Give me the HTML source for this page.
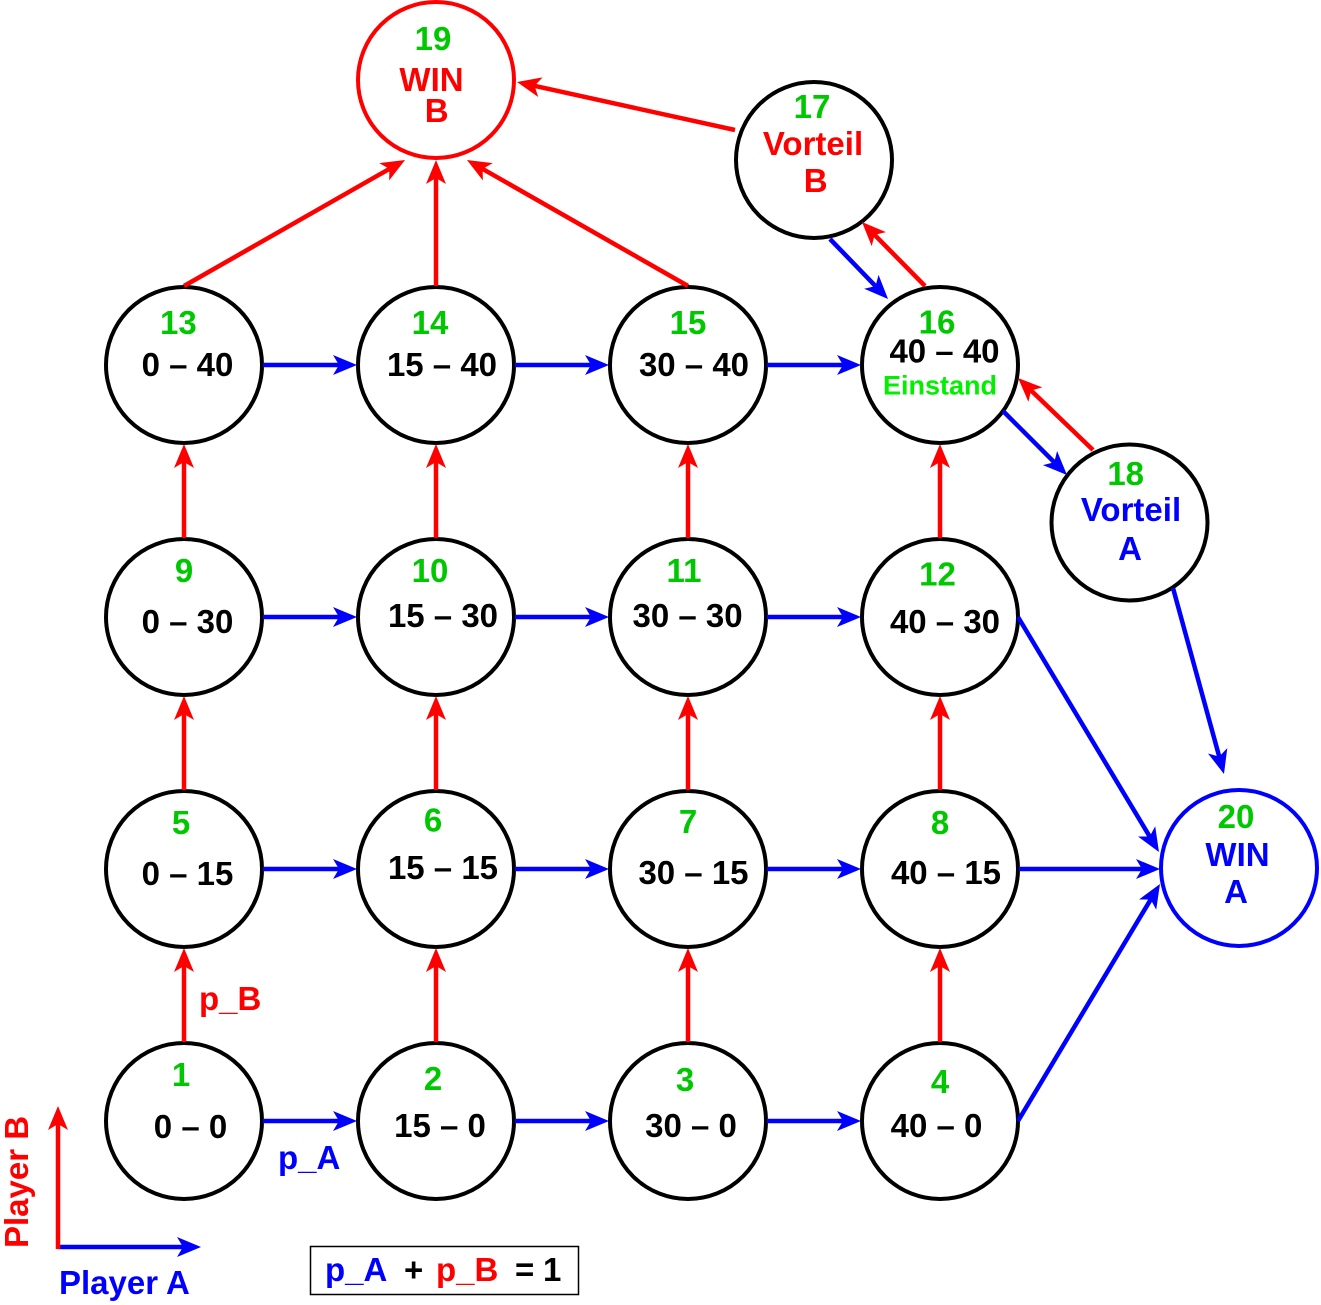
<!DOCTYPE html>
<html>
<head>
<meta charset="utf-8">
<style>
  html, body { margin: 0; padding: 0; background: #ffffff; }
  svg { display: block; }
  text { font-family: "Liberation Sans", Arial, sans-serif; font-weight: bold; font-size: 33px; }
  .g { fill: #00c800; }
  .k { fill: #000000; }
  .r { fill: #ff0000; }
  .b { fill: #0000ff; }
</style>
</head>
<body>
<svg width="1321" height="1305" viewBox="0 0 1321 1305" xmlns="http://www.w3.org/2000/svg">
  <defs>
    <marker id="ar" markerUnits="userSpaceOnUse" viewBox="-20 -15 40 30" refX="0" refY="0" markerWidth="40" markerHeight="30" orient="auto" overflow="visible">
      <path d="M12,0 L-12,-10 L-6,0 L-12,10 Z" fill="#ff0000"/>
    </marker>
    <marker id="ab" markerUnits="userSpaceOnUse" viewBox="-20 -15 40 30" refX="0" refY="0" markerWidth="40" markerHeight="30" orient="auto" overflow="visible">
      <path d="M12,0 L-12,-10 L-6,0 L-12,10 Z" fill="#0000ff"/>
    </marker>
  </defs>

  <!-- Circles -->
  <g fill="none" stroke="#000" stroke-width="4">
    <circle cx="184" cy="365" r="78"/>
    <circle cx="436" cy="365" r="78"/>
    <circle cx="688" cy="365" r="78"/>
    <circle cx="940" cy="365" r="78"/>
    <circle cx="184" cy="617" r="78"/>
    <circle cx="436" cy="617" r="78"/>
    <circle cx="688" cy="617" r="78"/>
    <circle cx="940" cy="617" r="78"/>
    <circle cx="184" cy="869" r="78"/>
    <circle cx="436" cy="869" r="78"/>
    <circle cx="688" cy="869" r="78"/>
    <circle cx="940" cy="869" r="78"/>
    <circle cx="184" cy="1121" r="78"/>
    <circle cx="436" cy="1121" r="78"/>
    <circle cx="688" cy="1121" r="78"/>
    <circle cx="940" cy="1121" r="78"/>
    <circle cx="814" cy="160" r="78"/>
    <circle cx="1129.5" cy="522.5" r="78"/>
  </g>
  <circle cx="436" cy="80" r="78" fill="none" stroke="#ff0000" stroke-width="4"/>
  <circle cx="1239" cy="868" r="78" fill="none" stroke="#0000ff" stroke-width="4"/>

  <!-- Blue arrows -->
  <g stroke="#0000ff" stroke-width="4.5" fill="none" marker-end="url(#ab)">
    <line x1="263" y1="365" x2="345" y2="365"/>
    <line x1="515" y1="365" x2="597" y2="365"/>
    <line x1="767" y1="365" x2="849" y2="365"/>
    <line x1="263" y1="617" x2="345" y2="617"/>
    <line x1="515" y1="617" x2="597" y2="617"/>
    <line x1="767" y1="617" x2="849" y2="617"/>
    <line x1="263" y1="869" x2="345" y2="869"/>
    <line x1="515" y1="869" x2="597" y2="869"/>
    <line x1="767" y1="869" x2="849" y2="869"/>
    <line x1="1019" y1="869" x2="1148" y2="869"/>
    <line x1="263" y1="1121" x2="345" y2="1121"/>
    <line x1="515" y1="1121" x2="597" y2="1121"/>
    <line x1="767" y1="1121" x2="849" y2="1121"/>
    <line x1="1018" y1="617" x2="1152.8" y2="841.7"/>
    <line x1="1018" y1="1121" x2="1153.8" y2="894.3"/>
    <line x1="1173" y1="588" x2="1220.8" y2="762.4"/>
    <line x1="830" y1="239" x2="879.7" y2="290.4"/>
    <line x1="1003" y1="411" x2="1058.5" y2="466.5"/>
    <line x1="58" y1="1247" x2="189" y2="1247"/>
  </g>

  <!-- Red arrows -->
  <g stroke="#ff0000" stroke-width="4.5" fill="none" marker-end="url(#ar)">
    <line x1="184" y1="1042" x2="184" y2="960"/>
    <line x1="436" y1="1042" x2="436" y2="960"/>
    <line x1="688" y1="1042" x2="688" y2="960"/>
    <line x1="940" y1="1042" x2="940" y2="960"/>
    <line x1="184" y1="790" x2="184" y2="708"/>
    <line x1="436" y1="790" x2="436" y2="708"/>
    <line x1="688" y1="790" x2="688" y2="708"/>
    <line x1="940" y1="790" x2="940" y2="708"/>
    <line x1="184" y1="538" x2="184" y2="456"/>
    <line x1="436" y1="538" x2="436" y2="456"/>
    <line x1="688" y1="538" x2="688" y2="456"/>
    <line x1="940" y1="538" x2="940" y2="456"/>
    <line x1="436" y1="286" x2="436" y2="172"/>
    <line x1="184" y1="286" x2="394.6" y2="165.9"/>
    <line x1="688" y1="286" x2="477.4" y2="165.9"/>
    <line x1="735" y1="130" x2="528.7" y2="84.6"/>
    <line x1="925" y1="286" x2="870.4" y2="230.6"/>
    <line x1="1093" y1="450" x2="1026.7" y2="386.3"/>
    <line x1="58" y1="1249" x2="58" y2="1118"/>
  </g>

  <!-- Node numbers -->
  <g class="g" text-anchor="middle">
    <text x="178.4" y="334">13</text>
    <text x="430" y="334">14</text>
    <text x="688" y="334">15</text>
    <text x="937" y="333.4">16</text>
    <text x="184" y="582">9</text>
    <text x="430" y="582">10</text>
    <text x="684" y="582">11</text>
    <text x="937.5" y="585.7">12</text>
    <text x="181" y="834">5</text>
    <text x="433" y="831.7">6</text>
    <text x="688" y="833">7</text>
    <text x="940" y="834">8</text>
    <text x="181" y="1086">1</text>
    <text x="433" y="1090">2</text>
    <text x="685" y="1091">3</text>
    <text x="940" y="1093">4</text>
    <text x="433" y="50">19</text>
    <text x="812" y="118">17</text>
    <text x="1125.7" y="485">18</text>
    <text x="1236" y="828">20</text>
  </g>

  <!-- Scores -->
  <g class="k" text-anchor="middle">
    <text x="187.5" y="376">0 – 40</text>
    <text x="442" y="376">15 – 40</text>
    <text x="694" y="376">30 – 40</text>
    <text x="944.5" y="362.7">40 – 40</text>
    <text x="187.5" y="633">0 – 30</text>
    <text x="443" y="627">15 – 30</text>
    <text x="687.6" y="627">30 – 30</text>
    <text x="945" y="633">40 – 30</text>
    <text x="187.5" y="885">0 – 15</text>
    <text x="443" y="879">15 – 15</text>
    <text x="693.5" y="884">30 – 15</text>
    <text x="946" y="884">40 – 15</text>
    <text x="190.5" y="1138">0 – 0</text>
    <text x="440" y="1137">15 – 0</text>
    <text x="691" y="1137">30 – 0</text>
    <text x="936.5" y="1137">40 – 0</text>
  </g>
  <text x="940" y="394.7" text-anchor="middle" style="font-size:27px; fill:#00f000;">Einstand</text>

  <!-- Special nodes -->
  <g class="r" text-anchor="middle">
    <text x="431.5" y="91">WIN</text>
    <text x="436.7" y="122">B</text>
    <text x="813" y="155">Vorteil</text>
    <text x="815.7" y="192">B</text>
  </g>
  <g class="b" text-anchor="middle">
    <text x="1131" y="521">Vorteil</text>
    <text x="1130" y="560">A</text>
    <text x="1237.5" y="866">WIN</text>
    <text x="1236" y="903">A</text>
  </g>

  <!-- Labels -->
  <text class="r" x="199" y="1010">p_B</text>
  <text class="b" x="278" y="1169">p_A</text>

  <!-- Legend -->
  <text class="r" transform="translate(28,1248) rotate(-90)" x="0" y="0">Player B</text>
  <text class="b" x="59" y="1294">Player A</text>

  <rect x="310.5" y="1246.5" width="268" height="48" fill="none" stroke="#000" stroke-width="1.5"/>
  <text class="b" x="325" y="1281">p_A</text>
  <text class="k" x="404" y="1281">+</text>
  <text class="r" x="436" y="1281">p_B</text>
  <text class="k" x="515" y="1281">=</text>
  <text class="k" x="543" y="1281">1</text>
</svg>
</body>
</html>
